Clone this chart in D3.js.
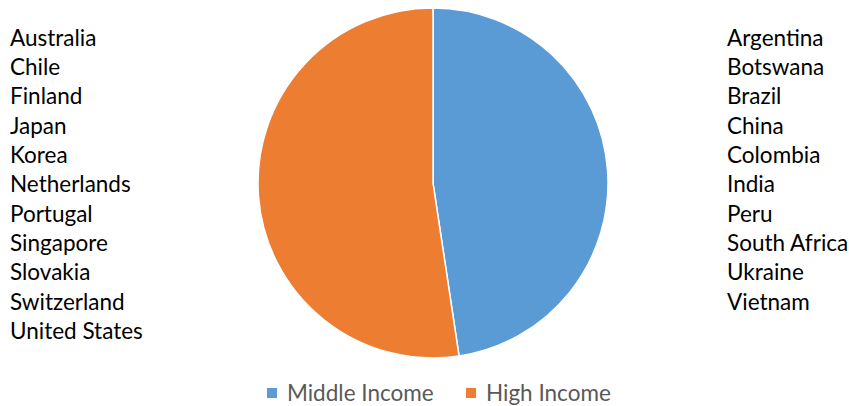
<!DOCTYPE html>
<html>
<head>
<meta charset="utf-8">
<script src="https://cdn.jsdelivr.net/npm/d3@7"></script>
<style>
  body { margin: 0; background: #fff; }
  svg text { font-family: Lato, "Open Sans", sans-serif; }
</style>
</head>
<body>
<svg id="chart"></svg>
<script>
// Chart data
const categories = ["Middle Income", "High Income"];
const values = [10, 11];
const colors = ["#5B9BD5", "#ED7D31"];

const highIncome = ["Australia", "Chile", "Finland", "Japan", "Korea", "Netherlands",
    "Portugal", "Singapore", "Slovakia", "Switzerland", "United States"];
const middleIncome = ["Argentina", "Botswana", "Brazil", "China", "Colombia", "India",
    "Peru", "South Africa", "Ukraine", "Vietnam"];

const width = 849;
const height = 406;
const fontSize = 22.5;

const svg = d3.select("#chart").attr("width", width).attr("height", height);

// Pie
const cx = 433, cy = 183, radius = 175;
const pie = d3.pie().sort(null).value(d => d.value);
const arc = d3.arc().innerRadius(0).outerRadius(radius);
const data = categories.map((c, i) => ({ name: c, value: values[i], color: colors[i] }));

svg.append("g")
    .attr("transform", `translate(${cx},${cy})`)
    .selectAll("path")
    .data(pie(data))
    .enter().append("path")
    .attr("d", arc)
    .attr("fill", d => d.data.color)
    .attr("stroke", "#fff")
    .attr("stroke-width", 1.5);

// Country lists
const rowY = d3.scaleLinear().domain([0, 10]).range([38, 331]);

svg.append("g").selectAll("text")
    .data(highIncome)
    .enter().append("text")
    .attr("x", 10)
    .attr("y", (d, i) => rowY(i))
    .attr("dy", "0.35em")
    .attr("font-size", fontSize)
    .attr("fill", "#000")
    .text(d => d);

svg.append("g").selectAll("text")
    .data(middleIncome)
    .enter().append("text")
    .attr("x", 727)
    .attr("y", (d, i) => rowY(i))
    .attr("dy", "0.35em")
    .attr("font-size", fontSize)
    .attr("fill", "#000")
    .text(d => d);

// Legend
const legendX = [267, 466];
const legend = svg.append("g").selectAll("g")
    .data(data)
    .enter().append("g")
    .attr("transform", (d, i) => `translate(${legendX[i]},393)`);

legend.append("rect")
    .attr("x", 0).attr("y", -5)
    .attr("width", 10).attr("height", 10)
    .attr("fill", d => d.color);

legend.append("text")
    .attr("x", 20)
    .attr("dy", "0.35em")
    .attr("font-size", fontSize)
    .attr("fill", "#595959")
    .text(d => d.name);
</script>
</body>
</html>
